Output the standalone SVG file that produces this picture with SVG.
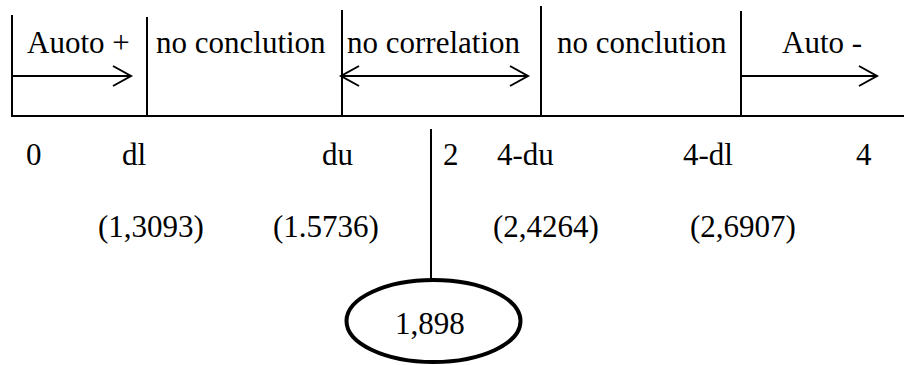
<svg xmlns="http://www.w3.org/2000/svg" width="904" height="365" viewBox="0 0 904 365">
  <style>
    text { font-family: "Liberation Serif", "Times New Roman", serif; font-size: 31px; fill: #000; }
    .ln { stroke: #000; stroke-width: 2; fill: none; }
    .arr { stroke: #000; stroke-width: 2; fill: none; }
  </style>
  <defs>
    <marker id="head" markerUnits="userSpaceOnUse" markerWidth="22" markerHeight="24" viewBox="-1 -12 22 24" refX="18" refY="0" orient="auto-start-reverse">
      <path d="M0,-10 L18,0 L0,10" fill="none" stroke="#000" stroke-width="2"/>
    </marker>
  </defs>
  <rect width="904" height="365" fill="#fff"/>

  <g id="axis">
    <line class="ln" x1="12" y1="116" x2="904" y2="116"/>
    <line class="ln" x1="12" y1="15" x2="12" y2="117"/>
    <line class="ln" x1="147" y1="17" x2="147" y2="117"/>
    <line class="ln" x1="342" y1="10" x2="342" y2="117"/>
    <line class="ln" x1="541" y1="6" x2="541" y2="117"/>
    <line class="ln" x1="741" y1="11" x2="741" y2="117"/>
  </g>

  <g id="zone-auto-plus"><text x="27" y="53">Auoto +</text></g>
  <g id="zone-no-conclusion-1"><text x="156" y="53">no conclution</text></g>
  <g id="zone-no-correlation"><text x="347" y="53">no correlation</text></g>
  <g id="zone-no-conclusion-2"><text x="557" y="53">no conclution</text></g>
  <g id="zone-auto-minus"><text x="782" y="53">Auto -</text></g>

  <g id="ticks">
    <text x="26" y="165">0</text>
    <text x="122" y="165">dl</text>
    <text x="322" y="165">du</text>
    <text x="443" y="165">2</text>
    <text x="497" y="165">4-du</text>
    <text x="683" y="165">4-dl</text>
    <text x="856" y="165">4</text>
  </g>

  <g id="values">
    <text x="98" y="237">(1,3093)</text>
    <text x="273" y="237">(1.5736)</text>
    <text x="493" y="237">(2,4264)</text>
    <text x="690" y="237">(2,6907)</text>
  </g>

  <g id="result">
    <ellipse cx="433.5" cy="321" rx="87" ry="41" fill="none" stroke="#000" stroke-width="4"/>
    <text x="395" y="334">1,898</text>
  </g>

  <g id="connectors">
    <line class="arr" x1="12" y1="76" x2="131" y2="76" marker-end="url(#head)"/>
    <line class="arr" x1="341" y1="76" x2="528" y2="76" marker-start="url(#head)" marker-end="url(#head)"/>
    <line class="arr" x1="741" y1="76" x2="877" y2="76" marker-end="url(#head)"/>
    <line class="ln" x1="431" y1="129" x2="431" y2="280"/>
  </g>
</svg>
